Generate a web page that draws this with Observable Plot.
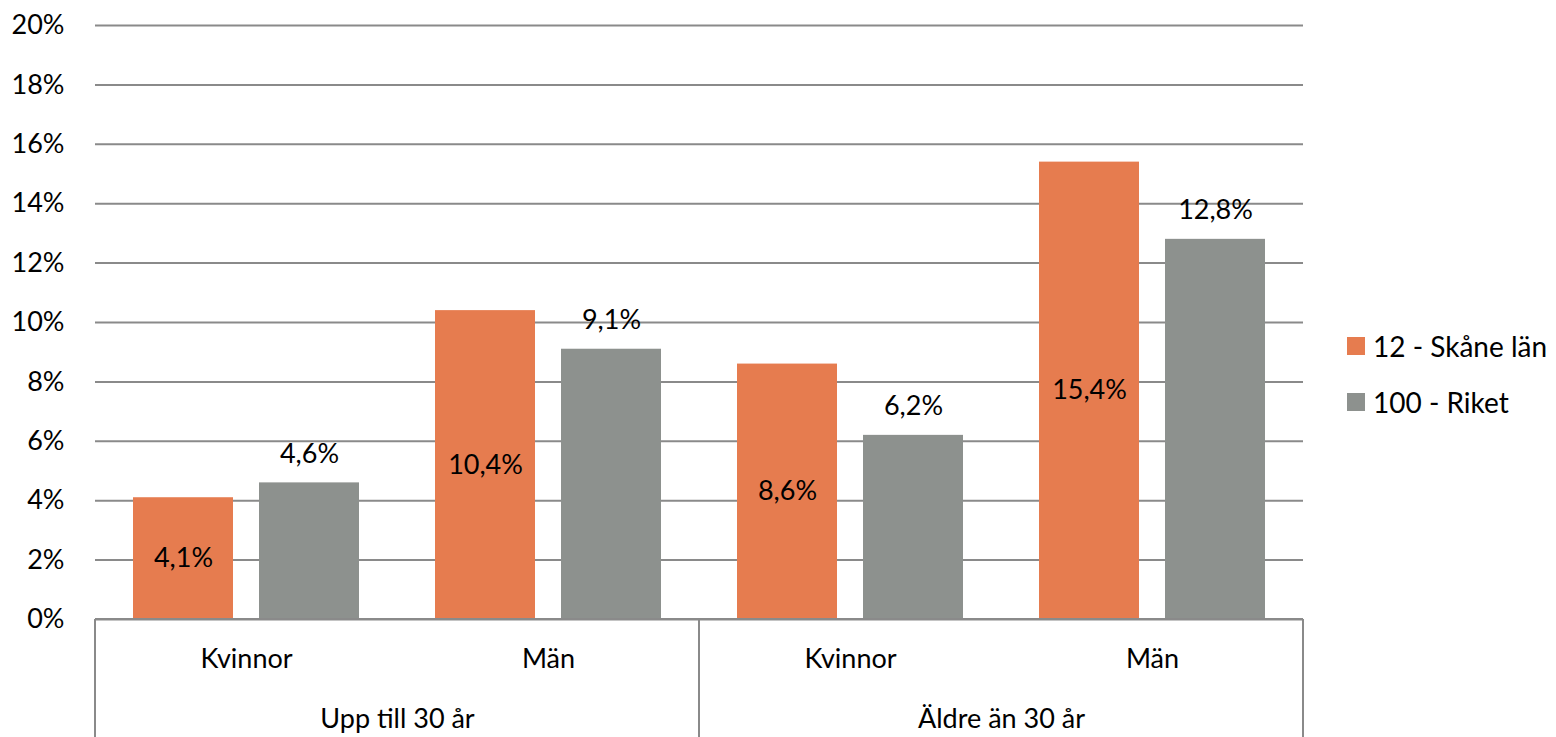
<!DOCTYPE html>
<html>
<head>
<meta charset="utf-8">
<script src="https://cdn.jsdelivr.net/npm/d3@7"></script>
<script src="https://cdn.jsdelivr.net/npm/@observablehq/plot@0.6"></script>
<style>
  html, body { margin: 0; padding: 0; background: #fff; }
  #wrap { position: relative; width: 1556px; height: 737px; font-family: Lato, "Open Sans", sans-serif; }
  #legend { position: absolute; left: 1347px; top: 318px; font-size: 28px; color: #000; }
  .li { display: flex; align-items: center; height: 56px; }
  .sw { width: 18px; height: 18px; margin-right: 8px; }
</style>
</head>
<body>
<div id="wrap">
  <div id="chart"></div>
  <div id="legend"></div>
</div>
<script>
const groups = ["Upp till 30 år", "Äldre än 30 år"];
const subgroups = ["Kvinnor", "Män"];
const series = ["12 - Skåne län", "100 - Riket"];
const colors = ["#E67C4F", "#8D918E"];
const skane = [4.1, 10.4, 8.6, 15.4];
const riket = [4.6, 9.1, 6.2, 12.8];
const yTicks = [0, 2, 4, 6, 8, 10, 12, 14, 16, 18, 20];

const keys = [];
groups.forEach(g => subgroups.forEach(s => keys.push(g + "|" + s)));
const data = [];
keys.forEach((k, i) => {
  data.push({key: k, series: series[0], value: skane[i]});
  data.push({key: k, series: series[1], value: riket[i]});
});
const subLabels = keys.map(k => ({key: k, label: k.split("|")[1]}));
const groupLabels = groups.map(g => ({key: g + "|" + subgroups[0], label: g}));
const fmt = v => String(v.toFixed(1)).replace(".", ",") + "%";
const FS = 27;

const plot = Plot.plot({
  width: 1556,
  height: 737,
  marginLeft: 95,
  marginRight: 253,
  marginTop: 25,
  marginBottom: 118,
  style: {fontFamily: "Lato, 'Open Sans', sans-serif", fontSize: FS + "px", color: "#000", background: "#fff", overflow: "visible"},
  fx: {domain: keys, padding: 0, axis: null},
  x: {domain: series, paddingInner: 0.206, paddingOuter: 0.3, axis: null},
  y: {domain: [0, 20], axis: null},
  color: {domain: series, range: colors},
  marks: [
    Plot.gridY(yTicks, {stroke: "#8a8a8a", strokeOpacity: 1, strokeWidth: 2}),
    Plot.axisY({ticks: yTicks, tickSize: 0, tickPadding: 31, tickFormat: d => d + "%", fontSize: FS, label: null}),
    Plot.barY(data, {fx: "key", x: "series", y: "value", fill: "series"}),
    Plot.text(data.filter(d => d.series === series[0]), {fx: "key", x: "series", y: d => d.value / 2, text: d => fmt(d.value), fontSize: FS, fill: "#000"}),
    Plot.text(data.filter(d => d.series === series[1]), {fx: "key", x: "series", y: "value", dy: -29, text: d => fmt(d.value), fontSize: FS, fill: "#000"}),
    Plot.text(subLabels, {fx: "key", text: "label", frameAnchor: "bottom", dy: 48, fontSize: FS, fill: "#000"}),
    Plot.text(groupLabels, {fx: "key", text: "label", frameAnchor: "bottom-right", textAnchor: "middle", dy: 108, fontSize: FS, fill: "#000"})
  ]
});
document.getElementById("chart").appendChild(plot);

// hierarchical axis separators, positioned via the fx scale
const fx = plot.scale("fx");
const yS = plot.scale("y");
const svg = d3.select(plot);
const y0 = yS.apply(0);
const step = fx.bandwidth !== undefined ? fx.bandwidth : (fx.range[1] - fx.range[0]) / keys.length;
const left = fx.apply(keys[0]);
const mid = fx.apply(keys[2]);
const right = fx.apply(keys[3]) + step;
const g = svg.append("g").attr("stroke", "#8a8a8a").attr("stroke-width", 2);
g.append("line").attr("x1", left).attr("x2", right).attr("y1", y0).attr("y2", y0);
[left, mid, right].forEach(x => {
  g.append("line").attr("x1", x).attr("x2", x).attr("y1", y0).attr("y2", 737);
});

// legend
const leg = d3.select("#legend");
series.forEach((s, i) => {
  const row = leg.append("div").attr("class", "li");
  row.append("div").attr("class", "sw").style("background", colors[i]);
  row.append("span").text(s);
});
</script>
</body>
</html>
